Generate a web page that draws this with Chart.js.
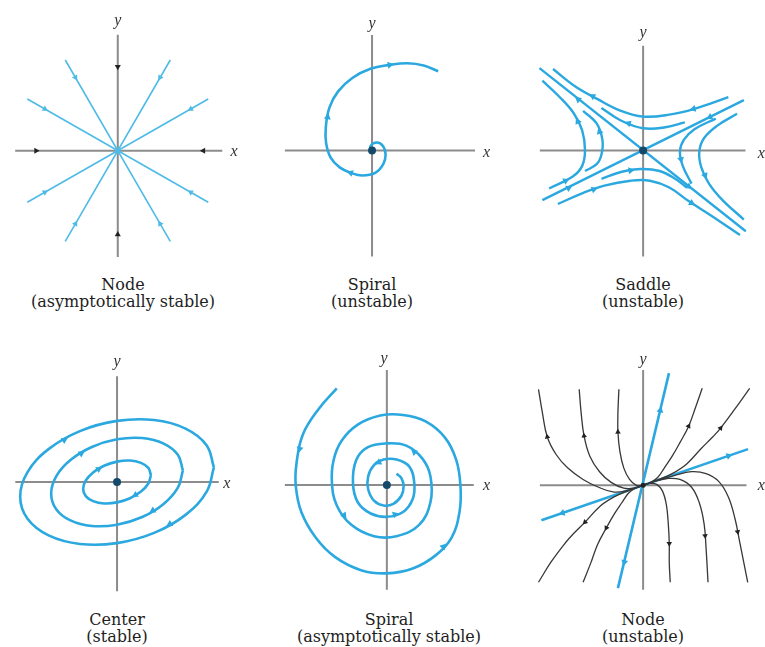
<!DOCTYPE html>
<html>
<head>
<meta charset="utf-8">
<title>Phase portraits</title>
<script src="https://cdn.jsdelivr.net/npm/chart.js@4.4.1/dist/chart.umd.min.js"></script>
<style>
body { margin: 0; background: #fff; }
#page { position: relative; width: 765px; height: 647px; overflow: hidden; }
canvas { position: absolute; }
.cap {
    position: absolute;
    transform: translateX(-50%);
    text-align: center;
    font-family: "DejaVu Serif", "Liberation Serif", serif;
    font-size: 16px;
    line-height: 17px;
    color: #1e1e1e;
    white-space: nowrap;
}
</style>
</head>
<body>
<div id="page">
    <canvas id="c1"></canvas>
    <canvas id="c2"></canvas>
    <canvas id="c3"></canvas>
    <canvas id="c4"></canvas>
    <canvas id="c5"></canvas>
    <canvas id="c6"></canvas>
    <div class="cap" style="left:123px;top:276px">Node<br>(asymptotically stable)</div>
    <div class="cap" style="left:372px;top:276px">Spiral<br>(unstable)</div>
    <div class="cap" style="left:643px;top:276px">Saddle<br>(unstable)</div>
    <div class="cap" style="left:117px;top:611px">Center<br>(stable)</div>
    <div class="cap" style="left:389px;top:611px">Spiral<br>(asymptotically stable)</div>
    <div class="cap" style="left:643px;top:611px">Node<br>(unstable)</div>
</div>
<script>
// Data: [x, y] points, arrowheads as [x, y, direction in degrees]

// Node (asymptotically stable)
const nodeRays = [
    [[-54, 93], [54, -93]],
    [[54, 93], [-54, -93]],
    [[-93, 53], [93, -53]],
    [[93, 53], [-93, -53]]
];
const nodeRayArrows = [[-43.5, 75, 150], [43.5, 75, 210], [-43.5, -75, 30], [43.5, -75, 330],
    [-75, 42.7, 120], [75, 42.7, 240], [-75, -42.7, 60], [75, -42.7, 300]];
const nodeAxisArrows = [[0, 86, 180], [0, -86, 0], [-84, 0, 90], [88, 0, 270]];

// Spiral (unstable)
const spiralOut = [[0, 0], [-1.7, 4.3], [5, 8.3], [11.6, 4.3], [14, -4], [11.6, -14], [3.3, -23],
    [-10, -25.7], [-21.7, -23], [-33.4, -17.3], [-42.7, -7.3], [-47.4, 7.7], [-47.7, 24.3],
    [-44, 44.3], [-35, 61], [-20, 75], [-1.7, 84.3], [18.3, 88.3], [36.6, 90], [53.3, 87.7], [68.3, 81.7]];
const spiralOutArrows = [[18.3, 88.2, 81], [-45.8, 34.5, 10], [-22, -22.8, 290]];

// Saddle (unstable)
const saddleSepA = [[-107, 85], [106, -83]];
const saddleSepB = [[-104, -51], [104, 52]];
const saddleTopOuter = [[-93, 84], [-70, 66], [-47, 53], [-23, 41], [0, 35], [27, 37], [53, 43], [88, 55]];
const saddleTopInner = [[-43, 44], [-23, 31], [0, 23], [23, 24], [43, 29]];
const saddleBottomOuter = [[-88, -55], [-63, -44], [-40, -36], [-13, -31], [7, -31], [27, -38], [47, -52], [72, -68], [100, -87]];
const saddleBottomInner = [[-43, -29], [-23, -22], [-3, -19], [17, -21], [33, -29], [45, -38]];
const saddleLeftOuter = [[-104, 72], [-87, 56], [-72, 39], [-63, 21], [-60, 0], [-63, -16], [-73, -27], [-97, -39]];
const saddleLeftInner = [[-62, 41], [-48, 28], [-42, 11], [-43, -4], [-48, -14], [-60, -21]];
const saddleRightInner = [[75, 33], [53, 22], [42, 11], [38, -1], [41, -16], [50, -34]];
const saddleRightOuter = [[97, 38], [77, 26], [63, 13], [58, -1], [60, -17], [68, -34], [82, -51], [104, -71]];
const saddleArrows = [[52, 43, 257], [-52, 56, 300], [-15, 28, 289], [-67.5, 30, 333], [-80, -31, 63],
    [-45, 19.5, 341], [-51, -40, 71], [50, -54, 122], [-13, -20.5, 82], [39, -9, 169], [64, -25.5, 155],
    [69, 34.5, 243], [-77, -38.5, 63], [-67, 52.7, 308], [47, -37, 128]];

// Center (stable)
const centerOuter = [[100, 15], [92.4, 38], [70.7, 55.1], [38.3, 63.9], [0, 63], [-38.3, 52.5], [-70.7, 33.9],
    [-92.4, 10.2], [-100, -15], [-92.4, -38], [-70.7, -55.1], [-38.3, -63.9], [0, -63], [38.3, -52.5],
    [70.7, -33.9], [92.4, -10.2], [100, 15]];
const centerMiddle = [[68, 12], [62.8, 28], [48.1, 39.6], [26, 45.3], [0, 44], [-26, 36.1], [-48.1, 22.6],
    [-62.8, 5.8], [-68, -12], [-62.8, -28], [-48.1, -39.6], [-26, -45.3], [0, -44], [26, -36.1],
    [48.1, -22.6], [62.8, -5.8], [68, 12]];
const centerInner = [[35, 7], [32.3, 14.5], [24.7, 19.7], [13.4, 22.1], [0, 21], [-13.4, 16.7], [-24.7, 9.9],
    [-32.3, 1.5], [-35, -7], [-32.3, -14.5], [-24.7, -19.7], [-13.4, -22.1], [0, -21], [13.4, -16.7],
    [24.7, -9.9], [32.3, -1.5], [35, 7]];
const centerArrows = [[-54.5, 43.2, 60], [54.5, -43.2, 240], [-37, 29.4, 59], [37, -29.4, 239],
    [-19, 13.3, 59], [19, -13.3, 239]];

// Spiral (asymptotically stable)
const spiralIn = [[-51.7, 99.7], [-70, 79], [-86.7, 52.3], [-93.3, 22.3], [-94, -1], [-88.3, -27.7],
    [-73.3, -54.3], [-53.3, -74.3], [-26.7, -87.7], [0, -91], [26.7, -86], [50, -72.7], [66.7, -54.3],
    [75, -27.7], [76, -1], [71.7, 25.7], [60, 49], [40, 65.7], [16.7, 72.3], [-6.7, 71.7], [-30, 62.3],
    [-46.7, 45.7], [-55, 25.7], [-56.7, 2.3], [-51.7, -21], [-36.7, -41], [-13.3, -52.7], [10, -52.7],
    [33.3, -41], [45, -17.7], [45, 9], [36.7, 27.3], [20, 40.7], [0, 43], [-20, 39], [-31.7, 25.7],
    [-35, 2.3], [-30, -17.7], [-16.7, -29.3], [0, -32.7], [16.7, -27.7], [26.7, -14.3], [28.3, 2.3],
    [23.3, 19], [10, 26.3], [-3.3, 26.3], [-13.3, 20.7], [-19.3, 9], [-19.3, -4.3], [-13.3, -16],
    [-3.3, -21], [6.7, -19.3], [15, -11], [17.3, -1], [15, 7.3], [10, 11.7]];
const spiralInArrows = [[-90, 37.3, 192], [58.3, -63.5, 42], [-44.2, -31, 143], [28.3, 34, 309],
    [-8.3, 23.5, 241], [8.3, -30.2, 73]];

// Node (unstable)
const node2Steep = [[26.7, 115.7], [-26, -106]];
const node2Shallow = [[108.3, 37.3], [-105, -36]];
const node2Curves = [
    [[-108, 99], [-104, 75], [-99, 50], [-90, 32], [-78, 18], [-62, 6], [-46, -2], [-30, -7], [-15, -5], [0, 0]],
    [[-66, 99], [-64, 75], [-61, 51], [-55, 30], [-45, 14], [-33, 3], [-20, -3], [-9, -3], [0, 0]],
    [[-25, 99], [-26, 75], [-26, 55], [-24, 35], [-20, 18], [-14, 6], [-7, 0], [0, 0]],
    [[0, 0], [7, 2], [14, 1], [20, -6], [24, -20], [26, -40], [27, -60], [27, -80], [28, -100]],
    [[0, 0], [12, 4], [25, 7], [38, 6], [50, -2], [58, -18], [63, -40], [65, -65], [67, -100]],
    [[0, 0], [15, 5], [32, 10], [50, 14], [65, 12], [78, 4], [88, -12], [95, -35], [100, -60], [104, -80], [108, -100]],
    [[0, 0], [8, 3], [15, 8], [22, 18], [30, 30], [38, 44], [47, 61], [54, 80], [61, 100]],
    [[0, 0], [15, 5.5], [30, 12], [45, 22], [60, 38], [72, 50], [80, 59], [95, 79], [110, 100]],
    [[0, 0], [-15, -5.5], [-30, -12], [-45, -22], [-60, -38], [-72, -50], [-80, -59], [-95, -79], [-108, -100]],
    [[0, 0], [-8, -3], [-15, -8], [-22, -18], [-30, -30], [-38, -44], [-47, -61], [-54, -80], [-62, -100]]
];
const node2BlueArrows = [[17.8, 77.3, 13], [-19.4, -79.3, 193], [88.3, 30.4, 71], [-83.3, -28.6, 251]];
const node2BlackArrows = [[-99, 50, 349], [-61, 51, 353], [-26, 55, 358], [27, -60, 180], [64, -52, 175],
    [97.6, -48, 169], [47, 61, 28], [80, 59, 37], [-60, -38, 225], [-38, -44, 208]];

const BLUE = '#2aa8df';
const RAY_BLUE = '#4ebbe6';
const AXIS = '#8c8c8c';
const DOT = '#15496a';
const INK = '#383838';

// Draws the italic x / y letters at data positions
const axisLetters = {
    id: 'axisLetters',
    afterDatasetsDraw(chart, args, opts) {
        const ctx = chart.ctx;
        ctx.save();
        ctx.font = 'italic 16px "Liberation Serif", serif';
        ctx.fillStyle = '#333';
        ctx.textAlign = 'center';
        ctx.textBaseline = 'middle';
        (opts.labels || []).forEach(l => {
            ctx.fillText(l.text, chart.scales.x.getPixelForValue(l.x), chart.scales.y.getPixelForValue(l.y));
        });
        ctx.restore();
    }
};

function pts(list) {
    return list.map(p => ({ x: p[0], y: p[1] }));
}

function line(list, color, width, tension) {
    return {
        data: pts(list),
        showLine: true,
        borderColor: color,
        borderWidth: width,
        pointRadius: 0,
        pointHoverRadius: 0,
        tension: tension === undefined ? 0.4 : tension,
        clip: false,
        order: 2
    };
}

function axes(xr, yr) {
    const h = line([[xr[0], 0], [xr[1], 0]], AXIS, 2, 0);
    const v = line([[0, yr[0]], [0, yr[1]]], AXIS, 2, 0);
    h.order = 3;
    v.order = 3;
    return [h, v];
}

function heads(list, color, r) {
    return {
        data: pts(list),
        showLine: false,
        pointStyle: 'triangle',
        pointRadius: r,
        pointHoverRadius: r,
        pointRotation: list.map(a => a[2]),
        pointBackgroundColor: color,
        pointBorderColor: color,
        pointBorderWidth: 0,
        clip: false,
        order: 1
    };
}

function dot(color, r) {
    return {
        data: [{ x: 0, y: 0 }],
        showLine: false,
        pointRadius: r,
        pointHoverRadius: r,
        pointBackgroundColor: color,
        pointBorderWidth: 0,
        clip: false,
        order: 1
    };
}

function makePanel(id, box, origin, datasets, letters) {
    const cv = document.getElementById(id);
    cv.width = box.w;
    cv.height = box.h;
    cv.style.left = box.l + 'px';
    cv.style.top = box.t + 'px';
    return new Chart(cv, {
        type: 'scatter',
        data: { datasets: datasets },
        options: {
            responsive: false,
            animation: false,
            events: [],
            layout: { padding: 0 },
            scales: {
                x: { type: 'linear', display: false, min: box.l - origin.x, max: box.l + box.w - origin.x },
                y: { type: 'linear', display: false, min: origin.y - box.t - box.h, max: origin.y - box.t }
            },
            plugins: {
                legend: { display: false },
                tooltip: { enabled: false },
                axisLetters: { labels: letters }
            }
        },
        plugins: [axisLetters]
    });
}

// Node (asymptotically stable)
makePanel('c1', { l: 0, t: 0, w: 255, h: 275 }, { x: 117.5, y: 151 }, [
    ...axes([-105.5, 107.5], [119, -109]),
    ...nodeRays.map(r => line(r, RAY_BLUE, 1.6, 0)),
    heads(nodeRayArrows, RAY_BLUE, 3.5),
    heads(nodeAxisArrows, '#222', 3.5),
    dot(RAY_BLUE, 3)
], [{ text: 'y', x: 0, y: 133 }, { text: 'x', x: 119.5, y: -1 }]);

// Spiral (unstable)
makePanel('c2', { l: 255, t: 0, w: 255, h: 275 }, { x: 371.7, y: 151 }, [
    ...axes([-90, 106.3], [119, -109]),
    line(spiralOut, BLUE, 2.6, 0.4),
    heads(spiralOutArrows, BLUE, 4),
    dot(DOT, 4)
], [{ text: 'y', x: 0, y: 131 }, { text: 'x', x: 118.3, y: -2 }]);

// Saddle (unstable)
makePanel('c3', { l: 510, t: 0, w: 255, h: 275 }, { x: 643.3, y: 151 }, [
    ...axes([-106.6, 105.7], [108, -109]),
    line(saddleSepA, BLUE, 2.4, 0),
    line(saddleSepB, BLUE, 2.4, 0),
    line(saddleTopOuter, BLUE, 2.4),
    line(saddleTopInner, BLUE, 2.4),
    line(saddleBottomOuter, BLUE, 2.4),
    line(saddleBottomInner, BLUE, 2.4),
    line(saddleLeftOuter, BLUE, 2.4),
    line(saddleLeftInner, BLUE, 2.4),
    line(saddleRightInner, BLUE, 2.4),
    line(saddleRightOuter, BLUE, 2.4),
    heads(saddleArrows, BLUE, 4),
    dot(DOT, 4)
], [{ text: 'y', x: 0, y: 121 }, { text: 'x', x: 122, y: -3 }]);

// Center (stable)
makePanel('c4', { l: 0, t: 340, w: 255, h: 265 }, { x: 116.7, y: 482.3 }, [
    ...axes([-105, 105], [109, -112.7]),
    line(centerOuter, BLUE, 2.6),
    line(centerMiddle, BLUE, 2.6),
    line(centerInner, BLUE, 2.6),
    heads(centerArrows, BLUE, 4),
    dot(DOT, 4)
], [{ text: 'y', x: 0, y: 124 }, { text: 'x', x: 113.3, y: -1.7 }]);

// Spiral (asymptotically stable)
makePanel('c5', { l: 255, t: 340, w: 255, h: 265 }, { x: 387, y: 485.5 }, [
    ...axes([-105.3, 89.7], [118.8, -107.8]),
    line(spiralIn, BLUE, 2.6, 0.4),
    heads(spiralInArrows, BLUE, 4),
    dot(DOT, 4)
], [{ text: 'y', x: -3, y: 130.5 }, { text: 'x', x: 103, y: -1 }]);

// Node (unstable)
makePanel('c6', { l: 510, t: 340, w: 255, h: 265 }, { x: 643.3, y: 485.7 }, [
    ...axes([-106.6, 106.7], [119, -107.6]),
    ...node2Curves.map(c => line(c, INK, 1.3, 0.4)),
    line(node2Steep, BLUE, 2.6, 0),
    line(node2Shallow, BLUE, 2.6, 0),
    heads(node2BlueArrows, BLUE, 4),
    heads(node2BlackArrows, '#222', 3.2),
    dot('#222', 2.5)
], [{ text: 'y', x: 0, y: 129 }, { text: 'x', x: 122, y: -1 }]);
</script>
</body>
</html>
